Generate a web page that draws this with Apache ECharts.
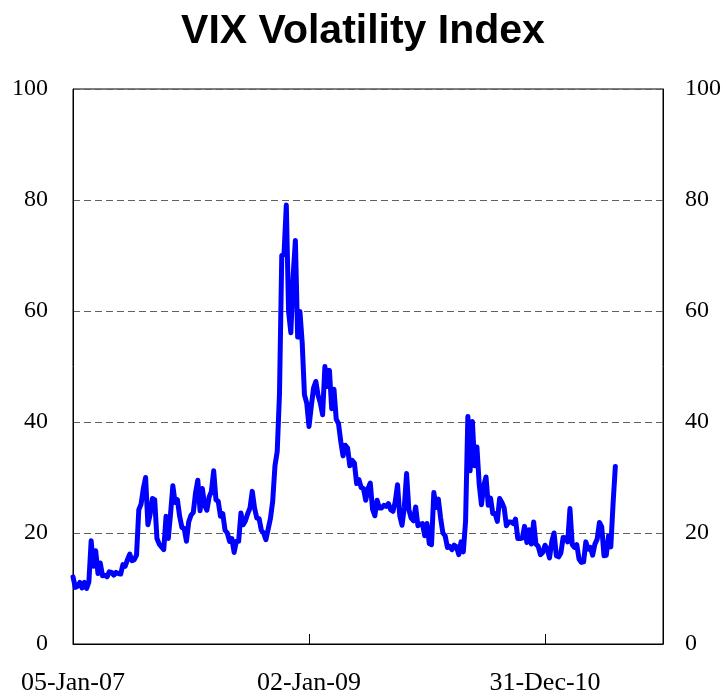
<!DOCTYPE html>
<html><head><meta charset="utf-8">
<script src="https://cdn.jsdelivr.net/npm/echarts@6/dist/echarts.min.js"></script>
<style>html,body{margin:0;padding:0;background:#fff}#c{width:726px;height:696px}</style>
</head><body><div id="c"></div>
<script>
// Weekly (Friday) VIX closes, 05-Jan-07 .. 05-Aug-11
const vix2007 = [12.1, 10.2, 10.4, 11.1, 10.1, 11.1, 10.0, 11.2, 18.6, 14.0, 16.8, 12.7, 14.6, 12.3, 12.4, 12.1, 13.0, 12.9, 12.4, 12.9, 12.7, 12.6, 14.3, 14.0, 15.2, 16.2, 15.0, 15.2, 16.0, 24.2, 25.2, 28.0, 30.0, 21.5, 23.4, 26.2, 26.0, 19.0, 18.0, 17.5, 17.0, 23.0, 19.0, 23.5, 28.5, 25.5, 26.0, 23.0, 21.0, 20.8, 18.5, 22.0];
const vix2008 = [23.2, 23.7, 27.2, 29.5, 24.0, 28.0, 25.0, 24.1, 26.5, 27.5, 31.2, 26.0, 25.7, 23.0, 23.5, 20.5, 20.0, 18.5, 19.0, 16.5, 18.5, 18.5, 23.6, 21.5, 22.2, 23.5, 24.5, 27.5, 24.5, 22.7, 22.6, 20.5, 20.0, 18.8, 20.7, 22.6, 25.7, 32.1, 34.7, 45.1, 70.0, 70.3, 79.1, 59.9, 56.1, 66.3, 72.7, 55.3, 59.9, 54.3, 44.9, 43.4];
const vix2009 = [39.2, 42.8, 46.1, 47.3, 44.8, 43.4, 41.3, 50.0, 46.4, 49.3, 42.4, 45.9, 40.5, 39.7, 36.5, 33.9, 35.8, 35.3, 32.1, 33.1, 32.6, 28.9, 29.6, 28.2, 28.0, 25.9, 28.0, 29.0, 24.3, 23.1, 25.9, 24.5, 24.5, 25.0, 24.8, 25.3, 24.2, 23.9, 25.6, 28.7, 23.1, 21.4, 24.6, 30.7, 24.2, 22.7, 22.2, 24.7, 21.3, 21.6, 21.7, 19.5, 21.7];
const vix2010 = [18.1, 17.9, 27.3, 24.6, 26.1, 22.7, 20.0, 19.5, 17.4, 17.6, 17.0, 17.8, 17.5, 16.1, 18.4, 16.6, 22.1, 41.0, 31.2, 40.1, 32.1, 35.5, 28.8, 25.1, 28.5, 30.1, 25.0, 26.3, 23.5, 23.5, 22.1, 26.2, 25.5, 24.5, 21.3, 22.0, 22.0, 21.7, 22.5, 19.0, 19.0, 19.1, 21.2, 18.3, 20.6, 18.0, 22.0, 18.0, 17.6, 16.1, 16.5, 17.8];
const vix2011 = [17.1, 15.5, 18.5, 20.0, 15.9, 15.7, 16.4, 19.2, 19.1, 18.4, 24.4, 17.9, 17.4, 17.9, 15.3, 14.7, 14.8, 18.4, 17.1, 17.4, 16.0, 18.0, 18.9, 21.9, 21.1, 15.9, 16.0, 19.5, 17.5, 25.3, 32.0];

const xTickLabels = ['05-Jan-07', '02-Jan-09', '31-Dec-10'];
const firstWeekUTC = Date.UTC(2007, 0, 5);
const weekCount = 261; // axis runs to end of 2011
const monthNames = ['Jan','Feb','Mar','Apr','May','Jun','Jul','Aug','Sep','Oct','Nov','Dec'];

const categories = [];
for (let i = 0; i < weekCount; i++) {
  const d = new Date(firstWeekUTC + i * 7 * 86400000);
  categories.push(String(d.getUTCDate()).padStart(2, '0') + '-' + monthNames[d.getUTCMonth()] + '-' + String(d.getUTCFullYear() % 100).padStart(2, '0'));
}
const values = [].concat(vix2007, vix2008, vix2009, vix2010, vix2011);
const showTick = function (i, v) { return xTickLabels.indexOf(v) >= 0; };

const chart = echarts.init(document.getElementById('c'), null, { renderer: 'canvas' });
const serif = 'Liberation Serif';
chart.setOption({
  animation: false,
  backgroundColor: '#ffffff',
  title: {
    text: 'VIX Volatility Index', left: 'center', top: 6,
    textStyle: { fontFamily: 'Liberation Sans', fontWeight: 'bold', fontSize: 41, color: '#000' }
  },
  grid: { left: 73, right: 63, top: 89, bottom: 51, show: true, borderColor: '#000', borderWidth: 1 },
  xAxis: {
    type: 'category', data: categories, boundaryGap: false,
    axisLine: { lineStyle: { color: '#000', width: 1 } },
    axisTick: { show: true, inside: true, length: 10, interval: showTick, lineStyle: { color: '#000' } },
    axisLabel: { interval: showTick, fontFamily: serif, fontSize: 26, color: '#000', margin: 26 },
    splitLine: { show: false }
  },
  yAxis: [
    {
      type: 'value', min: 0, max: 100, interval: 20, position: 'left',
      axisLine: { show: true, lineStyle: { color: '#000' } }, axisTick: { show: false },
      axisLabel: { fontFamily: serif, fontSize: 24, color: '#000', margin: 25 },
      splitLine: { show: true, lineStyle: { color: '#606060', width: 1, type: [7, 4] } }
    },
    {
      type: 'value', min: 0, max: 100, interval: 20, position: 'right',
      axisLine: { show: true, lineStyle: { color: '#000' } }, axisTick: { show: false },
      axisLabel: { fontFamily: serif, fontSize: 24, color: '#000', margin: 22 },
      splitLine: { show: false }
    }
  ],
  series: [{
    type: 'line', data: values, showSymbol: false, symbol: 'none',
    lineStyle: { color: '#0000ff', width: 5, cap: 'round', join: 'round' },
    itemStyle: { color: '#0000ff' }
  }]
});
</script></body></html>
